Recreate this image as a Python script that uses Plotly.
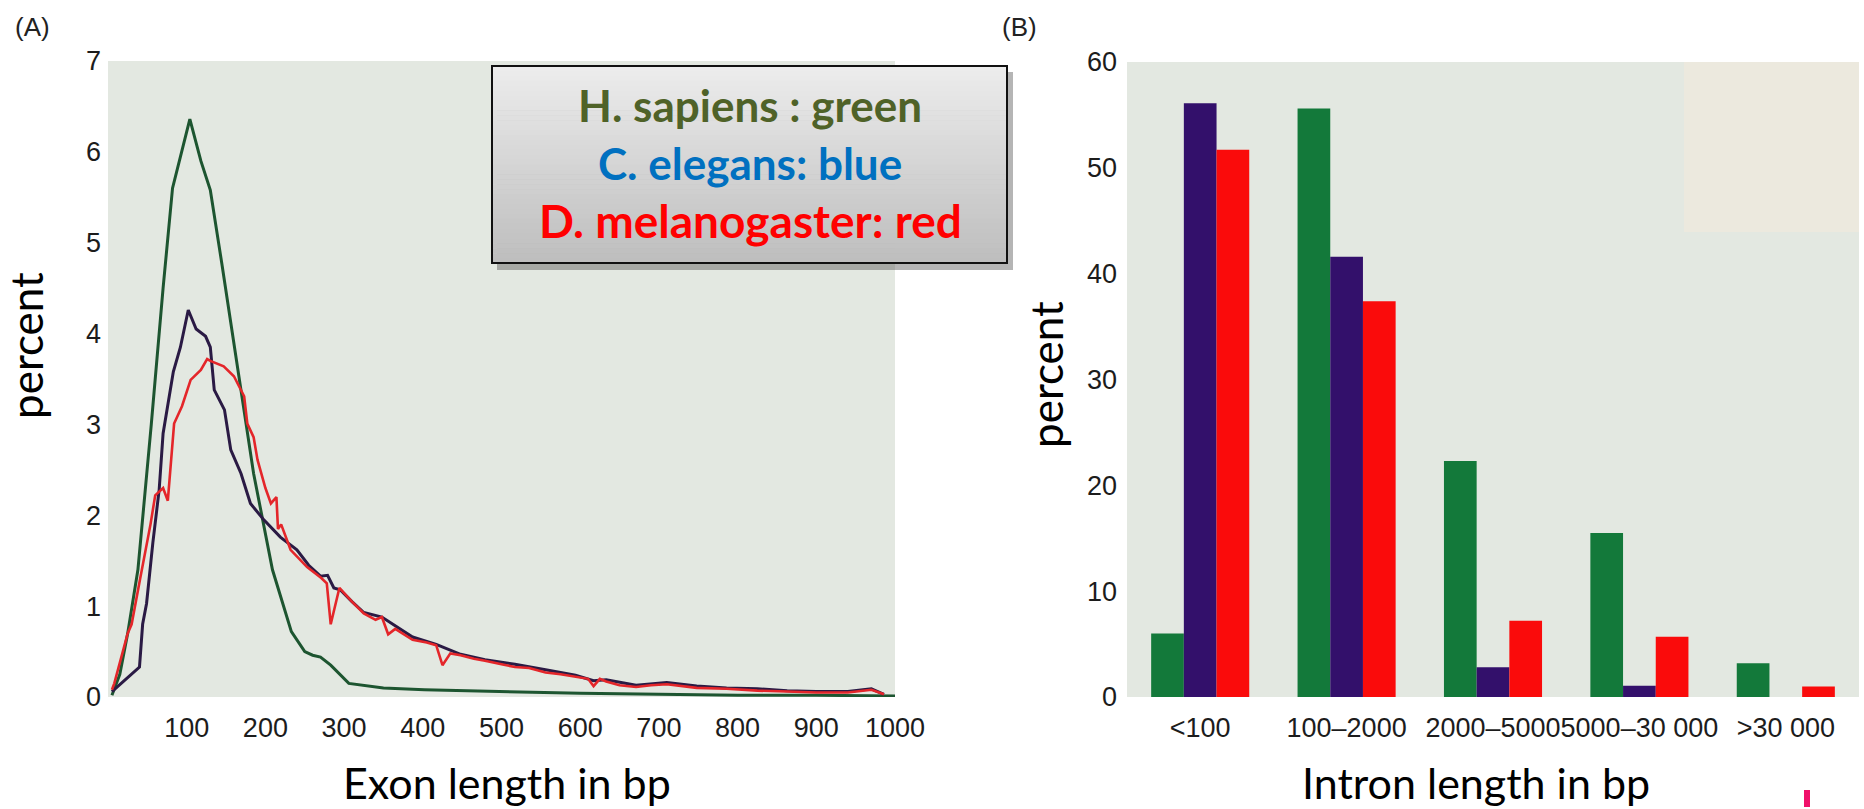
import plotly.graph_objects as go

W, H = 1864, 809

# ---------------- data: panel A (exon length distribution) ----------------
hs_bp = [5, 15, 25, 38, 55, 70, 82, 92, 104, 118, 124, 130, 145, 160, 185, 209, 233, 250,
         260, 270, 283, 306, 350, 402, 500, 600, 700, 800, 900, 1000]
hs_pct = [0.02, 0.25, 0.7, 1.4, 3.0, 4.5, 5.6, 5.95, 6.36, 5.9, 5.73, 5.58, 4.75, 3.9, 2.46, 1.4,
          0.72, 0.5, 0.46, 0.44, 0.35, 0.15, 0.1, 0.08, 0.06, 0.04, 0.03, 0.02, 0.02, 0.01]

ce_bp = [5, 20, 40, 44, 49, 57, 65, 70, 83, 92, 102, 112, 124, 130, 135, 148, 156, 169, 181,
         198, 219, 240, 255, 270, 279, 287, 295, 310, 325, 348, 365, 387, 417, 448, 479, 517,
         556, 594, 617, 633, 671, 710, 748, 786, 825, 863, 900, 940, 970, 986]
ce_pct = [0.06, 0.18, 0.33, 0.8, 1.03, 1.7, 2.28, 2.9, 3.58, 3.85, 4.26, 4.05, 3.97, 3.85, 3.38,
          3.16, 2.72, 2.46, 2.13, 1.95, 1.76, 1.62, 1.45, 1.33, 1.34, 1.2, 1.18, 1.05, 0.93, 0.88,
          0.78, 0.66, 0.58, 0.47, 0.41, 0.36, 0.3, 0.24, 0.18, 0.19, 0.13, 0.16, 0.12, 0.1, 0.09,
          0.07, 0.06, 0.06, 0.09, 0.03]

dm_bp = [5, 8, 25, 30, 41, 54, 60, 67, 70, 76, 80, 84, 94, 101, 105, 118, 126, 130, 147, 160,
         173, 177, 185, 190, 200, 207, 214, 216, 220, 232, 253, 271, 278, 283, 294, 310, 325,
         340, 348, 356, 365, 387, 405, 417, 425, 435, 448, 465, 479, 500, 517, 535, 556, 575,
         594, 610, 617, 625, 633, 650, 671, 690, 710, 748, 786, 825, 863, 900, 940, 970, 986]
dm_pct = [0.08, 0.15, 0.7, 0.8, 1.31, 1.9, 2.22, 2.28, 2.3, 2.16, 2.6, 3.01, 3.2, 3.38, 3.49,
          3.6, 3.72, 3.7, 3.64, 3.53, 3.31, 3.01, 2.86, 2.61, 2.3, 2.13, 2.2, 1.85, 1.9, 1.62,
          1.43, 1.31, 1.25, 0.8, 1.2, 1.05, 0.92, 0.85, 0.88, 0.69, 0.75, 0.63, 0.6, 0.57, 0.35,
          0.48, 0.46, 0.42, 0.40, 0.36, 0.33, 0.32, 0.27, 0.25, 0.22, 0.2, 0.12, 0.2, 0.17, 0.13,
          0.11, 0.13, 0.14, 0.1, 0.09, 0.07, 0.06, 0.05, 0.05, 0.08, 0.03]

exon_ticks = [100, 200, 300, 400, 500, 600, 700, 800, 900, 1000]
exon_yticks = [0, 1, 2, 3, 4, 5, 6, 7]

# ---------------- data: panel B (intron length distribution) ----------------
intron_cats = ["<100", "100\u20132000", "2000\u20135000", "5000\u201330 000", ">30 000"]
intron_hs = [6.0, 55.6, 22.3, 15.5, 3.2]
intron_ce = [56.1, 41.6, 2.8, 1.07, 0.0]
intron_dm = [51.7, 37.4, 7.2, 5.7, 1.0]
intron_yticks = [0, 10, 20, 30, 40, 50, 60]

legend_lines = ["H. sapiens : green", "C. elegans: blue", "D. melanogaster: red"]
legend_colors = ["#4F6228", "#0070C0", "#FF0000"]

# ---------------- helpers for pixel placement ----------------
def px(x):
    return x / W

def py(y):
    return 1 - y / H

GREEN_L = "#1D5530"
DARK_L = "#2A1A44"
RED_L = "#E4262A"
PLOT_BG = "#E3E8E1"

fig = go.Figure()

fig.add_trace(go.Scatter(x=hs_bp, y=hs_pct, mode="lines", line=dict(color=GREEN_L, width=3),
                         xaxis="x", yaxis="y", showlegend=False))
fig.add_trace(go.Scatter(x=ce_bp, y=ce_pct, mode="lines", line=dict(color=DARK_L, width=3),
                         xaxis="x", yaxis="y", showlegend=False))
fig.add_trace(go.Scatter(x=dm_bp, y=dm_pct, mode="lines", line=dict(color=RED_L, width=2.6),
                         xaxis="x", yaxis="y", showlegend=False))

for vals, col in [(intron_hs, "#13793A"), (intron_ce, "#33106B"), (intron_dm, "#FA0B0B")]:
    fig.add_trace(go.Bar(x=intron_cats, y=vals, marker=dict(color=col, line=dict(width=0)),
                         xaxis="x2", yaxis="y2", showlegend=False))

tickfont = dict(family="Liberation Sans, Arial, sans-serif", size=27, color="#1c1c1c")

fig.update_layout(
    template="none",
    width=W, height=H, autosize=False,
    margin=dict(l=0, r=0, t=0, b=0, pad=0),
    paper_bgcolor="white",
    plot_bgcolor=PLOT_BG,
    barmode="group", bargap=0.33, bargroupgap=0,
    xaxis=dict(domain=[px(108), px(895)], range=[0, 1000], tickvals=exon_ticks,
               showgrid=False, zeroline=False, showline=False, ticks="", automargin=False,
               tickangle=0, tickfont=tickfont, ticklabelstandoff=12, anchor="y"),
    yaxis=dict(domain=[py(697), py(61)], range=[0, 7], tickvals=exon_yticks,
               showgrid=False, zeroline=False, showline=False, ticks="", automargin=False,
               tickfont=tickfont, ticklabelstandoff=6, anchor="x"),
    xaxis2=dict(domain=[px(1127), px(1859)], range=[-0.5, 4.5], type="category",
                showgrid=False, zeroline=False, showline=False, ticks="", automargin=False,
                tickangle=0, tickfont=tickfont, ticklabelstandoff=12, anchor="y2"),
    yaxis2=dict(domain=[py(697), py(62)], range=[0, 60], tickvals=intron_yticks,
                showgrid=False, zeroline=False, showline=False, ticks="", automargin=False,
                tickfont=tickfont, ticklabelstandoff=9, anchor="x2"),
)

shapes = []
# beige patch in panel B
shapes.append(dict(type="rect", xref="paper", yref="paper", x0=px(1684), x1=px(1859),
                   y0=py(232), y1=py(62), fillcolor="#ECE9DE", line=dict(width=0), layer="below"))
# legend box: shadow, gradient bands, border
shapes.append(dict(type="rect", xref="paper", yref="paper", x0=px(497), x1=px(1013),
                   y0=py(270), y1=py(72), fillcolor="rgba(90,90,90,0.45)", line=dict(width=0)))
top, bot = 66, 263
n = 40
c0, c1 = (236, 236, 236), (190, 190, 190)
for i in range(n):
    t = i / (n - 1)
    c = tuple(int(round(c0[k] + (c1[k] - c0[k]) * t)) for k in range(3))
    y0 = top + (bot - top) * i / n
    y1 = top + (bot - top) * (i + 1) / n
    shapes.append(dict(type="rect", xref="paper", yref="paper", x0=px(492), x1=px(1007),
                       y0=py(y1 + 0.5), y1=py(y0), fillcolor="rgb(%d,%d,%d)" % c,
                       line=dict(width=0)))
shapes.append(dict(type="rect", xref="paper", yref="paper", x0=px(492), x1=px(1007),
                   y0=py(bot), y1=py(top), fillcolor="rgba(0,0,0,0)",
                   line=dict(color="#111111", width=2)))
# small pink mark under panel B
shapes.append(dict(type="rect", xref="paper", yref="paper", x0=px(1804), x1=px(1810),
                   y0=py(807), y1=py(790), fillcolor="#F0106A", line=dict(width=0)))
fig.update_layout(shapes=shapes)

ann = []
title_font = dict(family="Lato, Open Sans, sans-serif", size=44, color="black")
xtitle_font = dict(family="Lato, Open Sans, sans-serif", size=43, color="black")
ann.append(dict(text="percent", x=px(26), y=py(346), xref="paper", yref="paper",
                textangle=-90, showarrow=False, font=title_font, xanchor="center", yanchor="middle"))
ann.append(dict(text="percent", x=px(1046), y=py(375), xref="paper", yref="paper",
                textangle=-90, showarrow=False, font=title_font, xanchor="center", yanchor="middle"))
ann.append(dict(text="Exon length in bp", x=px(507), y=py(782), xref="paper", yref="paper",
                showarrow=False, font=xtitle_font, xanchor="center", yanchor="middle"))
ann.append(dict(text="Intron length in bp", x=px(1476), y=py(782), xref="paper", yref="paper",
                showarrow=False, font=xtitle_font, xanchor="center", yanchor="middle"))
panel_font = dict(family="Liberation Sans Narrow, Liberation Sans, sans-serif", size=26, color="#222222")
ann.append(dict(text="(A)", x=px(32), y=py(27), xref="paper", yref="paper",
                showarrow=False, font=panel_font, xanchor="center", yanchor="middle"))
ann.append(dict(text="(B)", x=px(1019), y=py(27), xref="paper", yref="paper",
                showarrow=False, font=panel_font, xanchor="center", yanchor="middle"))
for txt, col, yc, fs in zip(legend_lines, legend_colors, [105, 163, 221], [44, 44, 46]):
    ann.append(dict(text="<b>%s</b>" % txt, x=px(750), y=py(yc), xref="paper", yref="paper",
                    showarrow=False, xanchor="center", yanchor="middle",
                    font=dict(family="Lato, Open Sans, sans-serif", size=fs, color=col)))
fig.update_layout(annotations=ann)

fig.write_html("out.html",
               config={"displayModeBar": False},
               post_script="document.body.style.margin='0';document.body.style.padding='0';"
                           "document.documentElement.style.overflow='hidden';")
